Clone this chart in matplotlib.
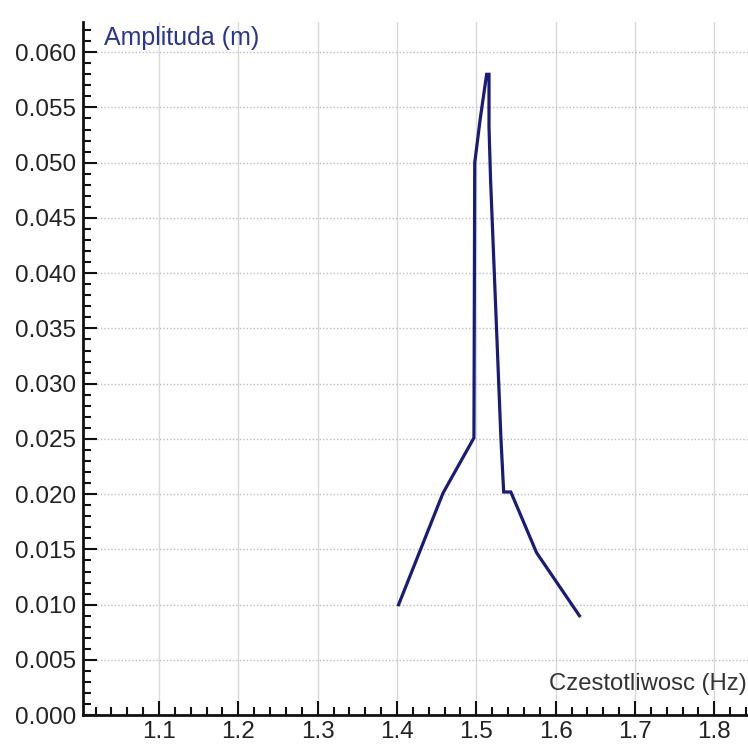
import numpy as np
import matplotlib
matplotlib.use('Agg')
import matplotlib.pyplot as plt
from matplotlib.ticker import MultipleLocator, FormatStrFormatter

# Frequency response
freq = [1.402, 1.458, 1.497, 1.498, 1.505, 1.509, 1.513, 1.516, 1.516,
        1.518, 1.531, 1.5345, 1.5435, 1.576, 1.630]
amp = [0.0100, 0.0201, 0.0251, 0.0500, 0.0540, 0.0560, 0.0580, 0.0580, 0.0532,
       0.0484, 0.0251, 0.0202, 0.0202, 0.0147, 0.0090]

x_label = 'Czestotliwosc (Hz)'
y_label = 'Amplituda (m)'

plt.rcParams['font.family'] = ['Liberation Sans', 'DejaVu Sans']

fig = plt.figure(figsize=(7.48, 7.45), dpi=100)
ax = fig.add_axes([0.111, 0.040, 0.889, 0.930])

ax.plot(freq, amp, color='#1a1a78', linewidth=2.3, solid_joinstyle='miter')

ax.set_xlim(1.0042, 1.8425)
ax.set_ylim(0.0, 0.0627)

ax.xaxis.set_major_locator(MultipleLocator(0.1))
ax.xaxis.set_minor_locator(MultipleLocator(0.02))
ax.yaxis.set_major_locator(MultipleLocator(0.005))
ax.yaxis.set_minor_locator(MultipleLocator(0.001))
ax.xaxis.set_major_formatter(FormatStrFormatter('%.1f'))
ax.yaxis.set_major_formatter(FormatStrFormatter('%.3f'))

ax.tick_params(which='both', direction='in', color='#111111', width=1.5,
               labelsize=17.5, labelcolor='#222222')
ax.tick_params(which='major', length=10)
ax.tick_params(which='minor', length=5.5)
ax.tick_params(axis='x', pad=4.5)
ax.tick_params(axis='y', pad=5)

# hide the 1.0 label that falls on the spine
for lbl, loc in zip(ax.get_xticklabels(), ax.get_xticks()):
    if loc < 1.05:
        lbl.set_visible(False)

for s in ['top', 'right']:
    ax.spines[s].set_visible(False)
for s in ['left', 'bottom']:
    ax.spines[s].set_linewidth(2)
    ax.spines[s].set_color('#111111')

ax.grid(axis='x', color='#d8d8d8', linewidth=1, linestyle='-')
ax.grid(axis='y', color='#bcbcbc', linewidth=1, linestyle=(0, (1, 1.5)))
ax.set_axisbelow(True)

ax.text(0.032, 0.977, y_label, transform=ax.transAxes, fontsize=18,
        color='#2a3590', ha='left', va='center')
ax.text(0.998, 0.045, x_label, transform=ax.transAxes, fontsize=17.2,
        color='#333333', ha='right', va='center')

plt.savefig('out.png', dpi=100)
